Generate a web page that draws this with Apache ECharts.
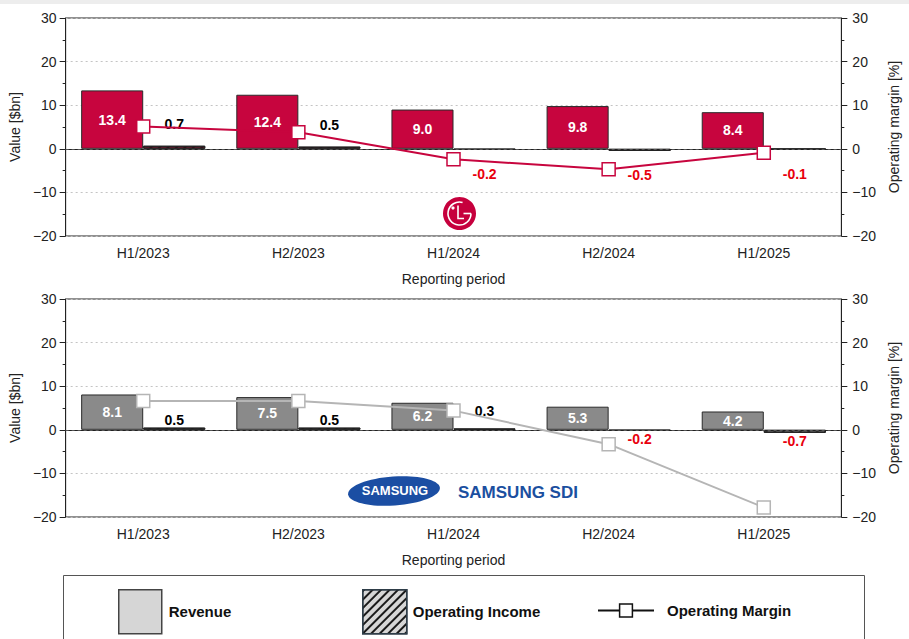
<!DOCTYPE html>
<html>
<head>
<meta charset="utf-8">
<title>LG Energy Solution vs Samsung SDI – half-year results</title>
<script src="https://cdn.jsdelivr.net/npm/echarts@6/dist/echarts.min.js"></script>
<style>
  html, body { margin: 0; padding: 0; background: #fff; }
  #chart { width: 909px; height: 639px; }
</style>
</head>
<body>
<div id="chart"></div>
<script>
// Reporting periods shared by both panels
const categories = ['H1/2023', 'H2/2023', 'H1/2024', 'H2/2024', 'H1/2025'];

// LG Energy Solution: revenue and operating income in $bn, margin in %
const lgRevenue = [13.4, 12.4, 9.0, 9.8, 8.4];
const lgIncome = [0.7, 0.5, -0.2, -0.5, -0.1];
const lgMargin = [5.1, 3.8, -2.4, -4.7, -0.9];

// Samsung SDI: revenue and operating income in $bn, margin in %
const sdiRevenue = [8.1, 7.5, 6.2, 5.3, 4.2];
const sdiIncome = [0.5, 0.5, 0.3, -0.2, -0.7];
const sdiMargin = [6.6, 6.6, 4.4, -3.3, -17.8];

// Value axis range shared by left ($bn) and right (%) axes
const axisMin = -20;
const axisMax = 30;
const axisStep = 10;

const FONT = '"Liberation Sans", Arial, Helvetica, sans-serif';

// Per-panel presentation
const panels = [
  {
    top: 18,
    revenue: lgRevenue, income: lgIncome, margin: lgMargin,
    revenueColor: '#c7053e',
    incomeColor: '#6e1a2f',
    lineColor: '#c7053e',
    gapUp: [15, 15, 15, 15, 15],
    gapDown: [17, 17, 17, 17, 17]
  },
  {
    top: 299,
    revenue: sdiRevenue, income: sdiIncome, margin: sdiMargin,
    revenueColor: '#8a8a8a',
    incomeColor: '#5e5e5e',
    lineColor: '#b5b5b5',
    gapUp: [1, 1, 10, 1, 1],
    gapDown: [1, 1, 1, 1, 1]
  }
];

const PLOT_HEIGHT = 218;

const stripeDecal = {
  symbol: 'rect',
  color: 'rgba(0,0,0,0.45)',
  dashArrayX: [1, 0],
  dashArrayY: [2, 4],
  rotation: -Math.PI / 4
};

const minusFmt = v => (v < 0 ? '\u2212' + Math.abs(v) : String(v));

const grids = [], xAxes = [], yAxes = [], series = [];

panels.forEach((p, i) => {
  grids.push({
    left: 62, right: 56, top: p.top, height: PLOT_HEIGHT,
    show: true, borderColor: '#222', borderWidth: 1
  });

  xAxes.push({
    type: 'category', gridIndex: i, data: categories,
    axisLine: { lineStyle: { color: '#222', width: 1 } },
    axisTick: { alignWithLabel: true, length: 6, lineStyle: { color: '#222' } },
    axisLabel: { fontFamily: FONT, fontSize: 14, color: '#222', margin: 10 },
    name: 'Reporting period', nameLocation: 'middle', nameGap: 36,
    nameTextStyle: { fontFamily: FONT, fontSize: 14, color: '#222' }
  });

  const valueAxisBase = {
    type: 'value', gridIndex: i,
    min: axisMin, max: axisMax, interval: axisStep,
    axisLine: { show: true, lineStyle: { color: '#222', width: 1 } },
    axisTick: { show: true, length: 6, lineStyle: { color: '#222' } },
    minorTick: { show: true, splitNumber: 2, length: 3, lineStyle: { color: '#222' } },
    axisLabel: { fontFamily: FONT, fontSize: 14, color: '#222', formatter: minusFmt },
    nameLocation: 'middle', nameRotate: 90,
    nameTextStyle: { fontFamily: FONT, fontSize: 14, color: '#222' }
  };

  yAxes.push(Object.assign({}, valueAxisBase, {
    position: 'left',
    name: 'Value [$bn]', nameGap: 38,
    axisLabel: Object.assign({}, valueAxisBase.axisLabel, { margin: 9 }),
    splitLine: { show: true, lineStyle: { color: '#c4c4c4', type: [2, 3], width: 1 } }
  }));

  yAxes.push(Object.assign({}, valueAxisBase, {
    position: 'right',
    name: 'Operating margin [%]', nameGap: 37,
    axisLabel: Object.assign({}, valueAxisBase.axisLabel, { margin: 11 }),
    splitLine: { show: false }
  }));

  series.push({
    name: 'Revenue', type: 'bar',
    xAxisIndex: i, yAxisIndex: 2 * i,
    barGap: '0%', barCategoryGap: '20%',
    data: p.revenue,
    itemStyle: { color: p.revenueColor, borderColor: '#2a2a2a', borderWidth: 1 },
    label: {
      show: true, position: 'inside', color: '#fff',
      fontFamily: FONT, fontSize: 14, fontWeight: 'bold',
      formatter: d => d.value.toFixed(1)
    },
    markLine: {
      silent: true, symbol: 'none',
      label: { show: false },
      lineStyle: { color: '#555', type: [3, 3], width: 1 },
      data: [{ yAxis: 0 }]
    },
    z: 2
  });

  series.push({
    name: 'Operating Income', type: 'bar',
    xAxisIndex: i, yAxisIndex: 2 * i,
    data: p.income.map((v, k) => ({
      value: v,
      label: {
        position: v >= 0 ? 'top' : 'bottom',
        distance: v >= 0 ? p.gapUp[k] : p.gapDown[k],
        color: v >= 0 ? '#000' : '#e8000d'
      }
    })),
    itemStyle: {
      color: p.incomeColor, borderColor: '#222', borderWidth: 1,
      decal: stripeDecal
    },
    label: {
      show: true, fontFamily: FONT, fontSize: 14, fontWeight: 'bold',
      formatter: d => d.value.toFixed(1)
    },
    z: 2
  });

  series.push({
    name: 'Operating Margin', type: 'line',
    xAxisIndex: i, yAxisIndex: 2 * i + 1,
    data: p.margin,
    symbol: 'rect', symbolSize: 13,
    itemStyle: { color: '#fff', borderColor: p.lineColor, borderWidth: 1.5 },
    lineStyle: { color: p.lineColor, width: 2 },
    z: 5
  });
});

const legendText = { fontFamily: FONT, fontSize: 15, fontWeight: 'bold', color: '#111' };

const legends = [
  {
    data: [{ name: 'Revenue', icon: 'rect', itemStyle: { color: '#d6d6d6', borderColor: '#444', borderWidth: 1.5, decal: 'none' } }],
    left: 118, top: 589, padding: 0, itemWidth: 43, itemHeight: 44, selectedMode: false,
    textStyle: Object.assign({ padding: [0, 0, 0, 2] }, legendText)
  },
  {
    data: [{
      name: 'Operating Income', icon: 'rect',
      itemStyle: {
        color: '#d6d6d6', borderColor: '#2e3d48', borderWidth: 1.5,
        decal: { symbol: 'rect', color: '#1a1a1a', dashArrayX: [1, 0], dashArrayY: [2, 4], rotation: -Math.PI / 4 }
      }
    }],
    left: 362, top: 589, padding: 0, itemWidth: 44, itemHeight: 44, selectedMode: false,
    textStyle: Object.assign({ padding: [0, 0, 0, 1] }, legendText)
  },
  {
    data: [{
      name: 'Operating Margin',
      itemStyle: { color: '#fff', borderColor: '#111', borderWidth: 1.5 },
      lineStyle: { color: '#111', width: 2 }
    }],
    left: 597, top: 603, padding: 0, itemWidth: 56, itemHeight: 16, selectedMode: false,
    textStyle: Object.assign({ padding: [0, 0, 0, 8] }, legendText)
  }
];

const graphics = [
  // thin band along the top edge
  { type: 'rect', shape: { x: 0, y: 0, width: 909, height: 4 }, style: { fill: '#ededed' }, silent: true },
  // legend frame
  {
    type: 'rect', shape: { x: 63.5, y: 575.5, width: 801, height: 90 },
    style: { fill: 'none', stroke: '#555', lineWidth: 1 }, silent: true
  },
  // LG emblem
  {
    type: 'group', x: 459.5, y: 213.5, silent: true,
    children: [
      { type: 'circle', shape: { cx: 0, cy: 0, r: 16.5 }, style: { fill: '#c6003d' } },
      { type: 'arc', shape: { cx: 0, cy: 0, r: 11.5, startAngle: 0, endAngle: Math.PI * 2 - 1.3, clockwise: true },
        style: { stroke: '#fff', lineWidth: 1.6, fill: 'none' } },
      { type: 'line', shape: { x1: 4, y1: 0, x2: 11.5, y2: 0 }, style: { stroke: '#fff', lineWidth: 1.6 } },
      { type: 'polyline', shape: { points: [[-1.5, -8], [-1.5, 5], [4.5, 5]] }, style: { stroke: '#fff', lineWidth: 1.6, fill: 'none' } },
      { type: 'circle', shape: { cx: -6.5, cy: -5.5, r: 1.6 }, style: { fill: '#fff' } }
    ]
  },
  // Samsung wordmark
  {
    type: 'group', x: 394, y: 491, rotation: 0.07, silent: true,
    children: [
      { type: 'ellipse', shape: { cx: 0, cy: 0, rx: 46, ry: 14.5 }, style: { fill: '#1b4ea3' } }
    ]
  },
  {
    type: 'text', x: 395, y: 490, silent: true,
    style: { text: 'SAMSUNG', fill: '#fff', font: 'bold 13px ' + FONT, align: 'center', verticalAlign: 'middle' }
  },
  {
    type: 'text', x: 458, y: 492, silent: true,
    style: { text: 'SAMSUNG SDI', fill: '#1b4f9f', font: 'bold 17px ' + FONT, align: 'left', verticalAlign: 'middle' }
  }
];

const chart = echarts.init(document.getElementById('chart'), null, { renderer: 'svg' });
chart.setOption({
  animation: false,
  backgroundColor: '#fff',
  textStyle: { fontFamily: FONT },
  grid: grids,
  xAxis: xAxes,
  yAxis: yAxes,
  legend: legends,
  series: series,
  graphic: graphics
});
</script>
</body>
</html>
